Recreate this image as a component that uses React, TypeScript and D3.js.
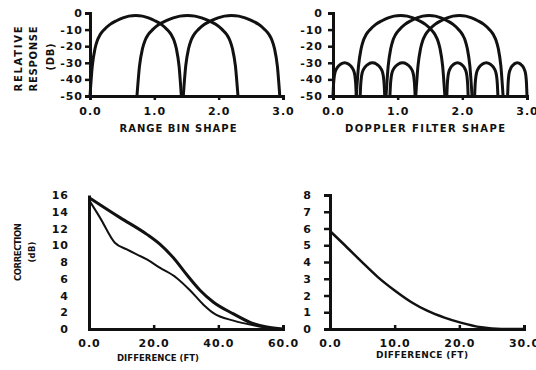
import React, { useEffect, useRef } from 'react';
import * as d3 from 'd3';

const width = 536;
const height = 370;

// top panels: relative response (dB) vs bin / filter position
const binTicks = [0, 1, 2, 3];
const responseTicks = [0, -10, -20, -30, -40, -50];
const rangeBins = [[0, 1.42], [0.73, 2.3], [1.45, 2.95]];
const dopplerMain = [[0.36, 1.73], [0.82, 2.15], [1.28, 2.63]];
const dopplerSide = [[0, 0.36], [0.42, 0.8], [0.88, 1.27], [1.76, 2.09], [2.19, 2.55], [2.7, 3.0]];
const mainPeakDb = -1.5;
const sidePeakDb = -30;
const floorDb = -50;
// lobe profile: distance from centre (fraction of half width) vs fraction of drop
const lobeU = [0, 0.15, 0.28, 0.42, 0.56, 0.68, 0.78, 0.84, 0.89, 0.95, 1];
const lobeDrop = [0, 0.008, 0.03, 0.065, 0.11, 0.17, 0.24, 0.31, 0.41, 0.63, 1];

// bottom-left: correction vs difference
const corrTicksL = [0, 2, 4, 6, 8, 10, 12, 14, 16];
const diffTicksL = [0, 20, 40, 60];
const upperDiff = [0, 9.6, 17.9, 22, 26.1, 30.2, 34.4, 38.5, 44.7, 49.8, 55, 60];
const upperCorr = [15.7, 13.3, 11.3, 10.1, 8.5, 6.5, 4.6, 3.2, 1.8, 0.8, 0.25, 0];
const lowerDiff = [0, 3.4, 8.0, 11.7, 17.9, 22, 27.1, 31.3, 35.4, 38.5, 44.7, 50.9, 56, 60];
const lowerCorr = [15.4, 13.3, 10.3, 9.5, 8.3, 7.3, 6.1, 4.6, 2.9, 1.9, 1.0, 0.45, 0.1, 0];

// bottom-right
const corrTicksR = [0, 1, 2, 3, 4, 5, 6, 7, 8];
const diffTicksR = [0, 10, 20, 30];
const decayDiff = [0, 2.3, 4.8, 7.4, 10, 12.6, 15.1, 17.7, 20.2, 23.4, 26.5, 30];
const decayCorr = [5.85, 5.0, 4.05, 3.1, 2.3, 1.6, 1.08, 0.68, 0.38, 0.1, 0, 0];

const ink = '#111';
const font = '"DejaVu Sans", sans-serif';

const lobe = (s, e, peak) => {
  const c = (s + e) / 2;
  const h = (e - s) / 2;
  const pts = [];
  for (let i = lobeU.length - 1; i > 0; i--) pts.push([c - lobeU[i] * h, peak - lobeDrop[i] * (peak - floorDb)]);
  pts.push([c, peak]);
  for (let i = 1; i < lobeU.length; i++) pts.push([c + lobeU[i] * h, peak - lobeDrop[i] * (peak - floorDb)]);
  return pts;
};

const App = () => {
  const svgRef = useRef(null);

  useEffect(() => {
    const svg = d3.select(svgRef.current);
    svg.selectAll('*').remove();
    svg.append('rect').attr('width', width).attr('height', height).attr('fill', '#fff');

    const styleAxis = (g, sw) => {
      g.select('.domain').attr('stroke', ink).attr('stroke-width', sw);
      g.selectAll('.tick line').attr('stroke', ink).attr('stroke-width', 2.5);
      g.selectAll('text')
        .attr('fill', ink)
        .style('font-family', font)
        .style('font-weight', 'bold')
        .style('font-size', '11px')
        .style('letter-spacing', '1px');
      g.attr('font-family', null).attr('font-size', null);
    };

    const plot = (x, y, xTicks, yTicks, xFmt, yFmt, xAxisY, yOpts, xOpts) => {
      const gx = svg.append('g').attr('transform', `translate(0,${xAxisY})`)
        .call(d3.axisBottom(x).tickValues(xTicks).tickFormat(xFmt)
          .tickSizeOuter(0).tickSize(xOpts.size).tickPadding(xOpts.pad));
      styleAxis(gx, 3);
      const gy = svg.append('g').attr('transform', `translate(${x.range()[0]},0)`)
        .call(d3.axisLeft(y).tickValues(yTicks).tickFormat(yFmt)
          .tickSizeOuter(0).tickSize(yOpts.size).tickPadding(yOpts.pad));
      styleAxis(gy, 3);
    };

    const curve = (x, y, pts, sw) => {
      const line = d3.line().x(d => x(d[0])).y(d => y(d[1])).curve(d3.curveMonotoneX);
      svg.append('path').attr('d', line(pts)).attr('fill', 'none')
        .attr('stroke', ink).attr('stroke-width', sw).attr('stroke-linejoin', 'round');
    };

    const label = (txt, cx, cy, len, rot, size = 10) => {
      svg.append('text')
        .attr('transform', `translate(${cx},${cy})${rot ? ' rotate(-90)' : ''}`)
        .attr('text-anchor', 'middle')
        .attr('dominant-baseline', 'central')
        .attr('textLength', len)
        .attr('lengthAdjust', 'spacing')
        .attr('fill', ink)
        .style('font-family', font)
        .style('font-weight', 'bold')
        .style('font-size', `${size}px`)
        .text(txt);
    };

    const f1 = d3.format('.1f');
    const fi = d => String(d);

    // top-left: range bin shape
    const xTL = d3.scaleLinear().domain([0, 3]).range([90, 283]);
    const yTop = d3.scaleLinear().domain([floorDb, 0]).range([96, 13]);
    plot(xTL, yTop, binTicks, responseTicks, f1, fi, 96, { size: 5, pad: 2 }, { size: 4, pad: 7 });
    rangeBins.forEach(b => curve(xTL, yTop, lobe(b[0], b[1], mainPeakDb), 3));

    // top-right: doppler filter shape
    const xTR = d3.scaleLinear().domain([0, 3]).range([333, 527]);
    plot(xTR, yTop, binTicks, responseTicks, f1, fi, 96, { size: 5, pad: 5 }, { size: 4, pad: 7 });
    dopplerSide.forEach(b => curve(xTR, yTop, lobe(b[0], b[1], sidePeakDb), 3));
    dopplerMain.forEach(b => curve(xTR, yTop, lobe(b[0], b[1], mainPeakDb), 3));

    // bottom-left
    const xBL = d3.scaleLinear().domain([0, 60]).range([89, 283]);
    const yBL = d3.scaleLinear().domain([0, 16]).range([329, 195]);
    plot(xBL, yBL, diffTicksL, corrTicksL, f1, fi, 329, { size: 0, pad: 20 }, { size: -4, pad: 10 });
    curve(xBL, yBL, upperDiff.map((d, i) => [d, upperCorr[i]]), 3);
    curve(xBL, yBL, lowerDiff.map((d, i) => [d, lowerCorr[i]]), 2);

    // bottom-right
    const xBR = d3.scaleLinear().domain([0, 30]).range([330, 524]);
    const yBR = d3.scaleLinear().domain([0, 8]).range([329, 195]);
    plot(xBR, yBR, diffTicksR, corrTicksR, f1, fi, 329, { size: 6, pad: 12 }, { size: -4, pad: 10 });
    curve(xBR, yBR, decayDiff.map((d, i) => [d, decayCorr[i]]), 2.5);

    // titles
    label('RANGE BIN SHAPE', 178, 128, 117, false);
    label('DOPPLER FILTER SHAPE', 425, 128, 160, false);
    label('DIFFERENCE (FT)', 158, 358, 82, false, 8.5);
    label('DIFFERENCE (FT)', 422, 355, 92, false, 9);
    label('RELATIVE', 18, 59, 65, true);
    label('RESPONSE', 33, 59, 65, true);
    label('(DB)', 50, 57, 27, true);
    label('CORRECTION', 18, 252, 58, true, 8.5);
    label('(dB)', 32, 252, 21, true, 8.5);
  }, []);

  return (
    <svg ref={svgRef} width={width} height={height}
      style={{ position: 'absolute', left: 0, top: 0, display: 'block' }} />
  );
};

export default App;
